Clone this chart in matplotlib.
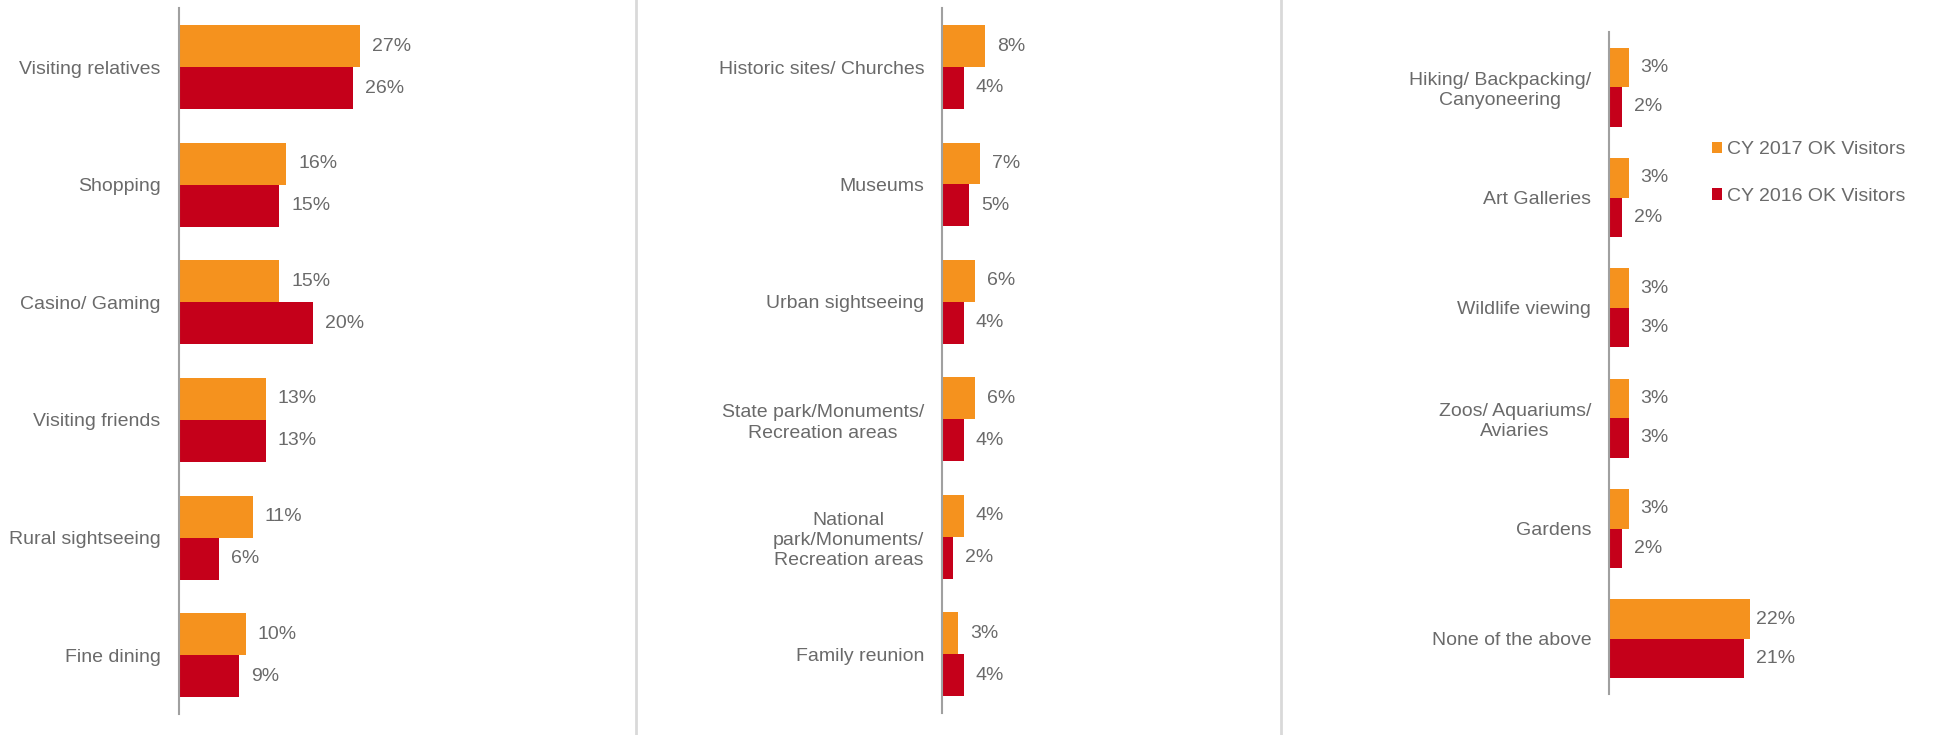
import matplotlib
matplotlib.use("Agg")
import matplotlib.pyplot as plt
from matplotlib.lines import Line2D
from matplotlib.patches import Patch
import matplotlib.transforms as mtransforms

plt.rcParams['font.family'] = ['Liberation Sans', 'DejaVu Sans']

# Activities, grouped into three panels
cats_1 = ["Visiting relatives", "Shopping", "Casino/ Gaming",
          "Visiting friends", "Rural sightseeing", "Fine dining"]
y2017_1 = [27, 16, 15, 13, 11, 10]
y2016_1 = [26, 15, 20, 13, 6, 9]

cats_2 = ["Historic sites/ Churches", "Museums", "Urban sightseeing",
          "State park/Monuments/\nRecreation areas",
          "National\npark/Monuments/\nRecreation areas", "Family reunion"]
y2017_2 = [8, 7, 6, 6, 4, 3]
y2016_2 = [4, 5, 4, 4, 2, 4]

cats_3 = ["Hiking/ Backpacking/\nCanyoneering", "Art Galleries",
          "Wildlife viewing", "Zoos/ Aquariums/\nAviaries", "Gardens",
          "None of the above"]
y2017_3 = [3, 3, 3, 3, 3, 22]
y2016_3 = [2, 2, 3, 3, 2, 21]

series_names = ["CY 2017 OK Visitors", "CY 2016 OK Visitors"]

ORANGE = "#F5921E"
RED = "#C5001A"
TEXT = "#6A6A6A"
AXIS = "#A0A0A0"
SEP = "#D9D9D9"
FS = 14

W, H = 1934, 735
fig = plt.figure(figsize=(W / 100, H / 100), dpi=100)

# (left px, top px, bottom px, width px, xmax)
panels = [
    (cats_1, y2017_1, y2016_1, (178.8, 8.3, 714.0, 268.0, 40)),
    (cats_2, y2017_2, y2016_2, (942.2, 8.3, 713.0, 216.0, 40)),
    (cats_3, y2017_3, y2016_3, (1609.3, 32.0, 694.0, 185.7, 29)),
]

bar_h = 0.357
labels = []
for cats, a, b, (lx, top, bot, wpx, xmax) in panels:
    ax = fig.add_axes([lx / W, 1 - bot / H, wpx / W, (bot - top) / H])
    n = len(cats)
    pos = list(range(n))
    ax.barh([p - bar_h / 2 for p in pos], a, height=bar_h, color=ORANGE,
            edgecolor="none")
    ax.barh([p + bar_h / 2 for p in pos], b, height=bar_h, color=RED,
            edgecolor="none")
    ax.set_ylim(n - 0.5, -0.5)
    ax.set_xlim(0, xmax)
    ax.set_yticks(pos)
    ax.set_yticklabels(cats, fontsize=FS, color=TEXT, multialignment="center",
                       linespacing=1.25)
    ax.tick_params(axis="y", length=0, pad=13)
    ax.set_xticks([])
    for s in ["top", "right", "bottom"]:
        ax.spines[s].set_visible(False)
    ax.spines["left"].set_color(AXIS)
    ax.spines["left"].set_linewidth(1.5)
    ax.patch.set_alpha(0)

    off = mtransforms.ScaledTranslation(12 / 100, 0, fig.dpi_scale_trans)
    for vals, dy in ((a, -bar_h / 2), (b, bar_h / 2)):
        for p, v in zip(pos, vals):
            t = ax.text(v, p + dy, f"{v}%", fontsize=FS, color=TEXT,
                        ha="left", va="center",
                        transform=ax.transData + off)
            labels.append((ax, t))

# Keep value labels inside their plot area
fig.canvas.draw()
renderer = fig.canvas.get_renderer()
for ax, t in labels:
    bb = t.get_window_extent(renderer)
    right = ax.get_window_extent(renderer).x1
    if bb.x1 > right:
        shift = (bb.x1 - right) / 100
        t.set_transform(t.get_transform() +
                        mtransforms.ScaledTranslation(-shift, 0, fig.dpi_scale_trans))

# Panel separators
for xs in (635.5, 1281.0):
    fig.add_artist(Line2D([xs / W, xs / W], [0, 1], transform=fig.transFigure,
                          color=SEP, linewidth=2))

handles = [Patch(facecolor=ORANGE, edgecolor="none"),
           Patch(facecolor=RED, edgecolor="none")]
leg = fig.legend(handles, series_names, loc="center left",
                 bbox_to_anchor=(1712.4 / W, 1 - 173 / H),
                 bbox_transform=fig.transFigure, frameon=False,
                 fontsize=FS, handlelength=0.5, handleheight=0.55,
                 handletextpad=0.25, labelspacing=1.5, borderpad=0,
                 borderaxespad=0)
for txt in leg.get_texts():
    txt.set_color(TEXT)

fig.savefig("out.png", dpi=100, facecolor="white")
